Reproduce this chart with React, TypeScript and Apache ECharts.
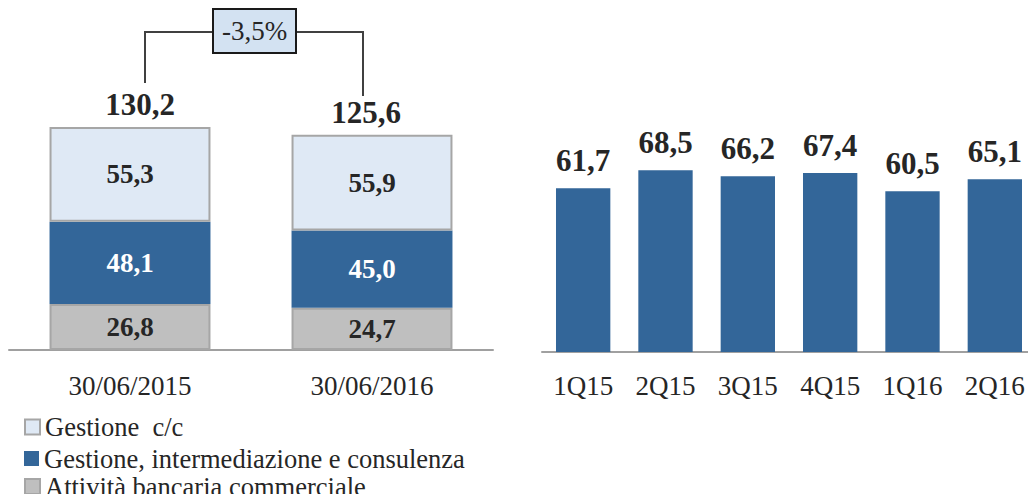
import React, { useEffect, useRef } from "react";
import * as echarts from "echarts";

const stackCategories = ["30/06/2015", "30/06/2016"];
const seriesNames = [
  "Gestione  c/c",
  "Gestione, intermediazione e consulenza",
  "Attività bancaria commerciale",
];
const gestioneCC = [55.3, 55.9];
const gestioneInterm = [48.1, 45.0];
const attivitaBancaria = [26.8, 24.7];

const quarterCategories = ["1Q15", "2Q15", "3Q15", "4Q15", "1Q16", "2Q16"];
const quarterValues = [61.7, 68.5, 66.2, 67.4, 60.5, 65.1];

const FONT = "'Liberation Serif', 'Times New Roman', serif";
const TEXT = "#262626";
const LIGHT = "#dfe9f5";
const BLUE = "#336699";
const GRAY = "#bfbfbf";
const BORDER = "#a6a6a6";

const fmt = (v: number) => v.toFixed(1).replace(".", ",");

export default function App() {
  const ref = useRef<HTMLDivElement>(null);

  useEffect(() => {
    if (!ref.current) return;
    const chart = echarts.init(ref.current, undefined, { renderer: "svg" });
    const totals = stackCategories.map(
      (_, i) => attivitaBancaria[i] + gestioneInterm[i] + gestioneCC[i]
    );
    const change = ((totals[1] - totals[0]) / totals[0]) * 100;
    const changeText = fmt(change) + "%";
    const totalOffsets = [[10, 0], [-6, 0]];
    const legendTops = [412.5, 444, 472];

    const segLabel = (color: string) => ({
      show: true,
      position: "inside",
      fontFamily: FONT,
      fontWeight: "bold",
      fontSize: 27,
      color,
      formatter: (p: any) => fmt(p.value),
    });

    chart.setOption({
      animation: false,
      textStyle: { fontFamily: FONT },
      legend: seriesNames.map((name, i) => ({
        orient: "vertical",
        left: 24,
        top: legendTops[i],
        padding: 0,
        itemGap: 0,
        itemWidth: 15,
        itemHeight: 15,
        icon: "rect",
        data: [name],
        textStyle: {
          fontFamily: FONT,
          fontSize: 26.5,
          color: TEXT,
          lineHeight: 29,
        },
      })),
      grid: [
        { left: 9, top: 93, width: 484, height: 257 },
        { left: 542, top: 139.6, width: 504, height: 212.4 },
      ],
      xAxis: [
        {
          type: "category",
          gridIndex: 0,
          data: stackCategories,
          axisLine: { lineStyle: { color: "#a0a0a0", width: 2 } },
          axisTick: { show: false },
          axisLabel: { fontFamily: FONT, fontSize: 27, color: TEXT, margin: 22 },
        },
        {
          type: "category",
          gridIndex: 1,
          data: quarterCategories,
          axisLine: { lineStyle: { color: "#a0a0a0", width: 2 } },
          axisTick: { show: false },
          axisLabel: { fontFamily: FONT, fontSize: 27, color: TEXT, margin: 20 },
        },
      ],
      yAxis: [
        { type: "value", gridIndex: 0, min: 0, max: 150, show: false, splitLine: { show: false } },
        { type: "value", gridIndex: 1, min: 0, max: 80, show: false, splitLine: { show: false } },
      ],
      series: [
        {
          name: seriesNames[2],
          type: "bar",
          stack: "tot",
          xAxisIndex: 0,
          yAxisIndex: 0,
          barWidth: "66.5%",
          data: attivitaBancaria,
          itemStyle: { color: GRAY, borderColor: BORDER, borderWidth: 2 },
          label: segLabel(TEXT),
        },
        {
          name: seriesNames[1],
          type: "bar",
          stack: "tot",
          xAxisIndex: 0,
          yAxisIndex: 0,
          barWidth: "66.5%",
          data: gestioneInterm,
          itemStyle: { color: BLUE },
          label: segLabel("#ffffff"),
        },
        {
          name: seriesNames[0],
          type: "bar",
          stack: "tot",
          xAxisIndex: 0,
          yAxisIndex: 0,
          barWidth: "66.5%",
          data: gestioneCC,
          itemStyle: { color: LIGHT, borderColor: BORDER, borderWidth: 2 },
          label: segLabel(TEXT),
        },
        {
          name: "Totale",
          type: "scatter",
          xAxisIndex: 0,
          yAxisIndex: 0,
          symbol: "circle",
          symbolSize: 1,
          itemStyle: { color: "rgba(0,0,0,0)", opacity: 1 },
          silent: true,
          data: totals.map((v, i) => ({
            value: v,
            label: { offset: totalOffsets[i] },
          })),
          label: {
            show: true,
            position: "top",
            distance: 6,
            fontFamily: FONT,
            fontWeight: "bold",
            fontSize: 31,
            color: TEXT,
            opacity: 1,
            formatter: (p: any) => fmt(p.value),
          },
        },
        {
          name: "Trimestri",
          type: "bar",
          xAxisIndex: 1,
          yAxisIndex: 1,
          barWidth: "66%",
          data: quarterValues,
          itemStyle: { color: BLUE },
          label: {
            show: true,
            position: "top",
            distance: 12,
            fontFamily: FONT,
            fontWeight: "bold",
            fontSize: 31,
            color: TEXT,
            formatter: (p: any) => fmt(p.value),
          },
        },
      ],
      graphic: [
        {
          type: "polyline",
          shape: { points: [[145, 83], [145, 32], [213, 32]] },
          style: { stroke: "#404040", lineWidth: 2, fill: null },
        },
        {
          type: "polyline",
          shape: { points: [[296, 32], [363, 32], [363, 96]] },
          style: { stroke: "#404040", lineWidth: 2, fill: null },
        },
        {
          type: "rect",
          shape: { x: 213, y: 9, width: 83, height: 44 },
          style: { fill: "#d3e2f2", stroke: "#1a1a1a", lineWidth: 2 },
        },
        {
          type: "text",
          x: 254.5,
          y: 31,
          style: {
            text: changeText,
            fontFamily: FONT,
            fontSize: 27,
            fill: TEXT,
            align: "center",
            verticalAlign: "middle",
          },
        },
      ],
    });
    return () => chart.dispose();
  }, []);

  return <div ref={ref} style={{ width: 1036, height: 502, margin: -8 }} />;
}
